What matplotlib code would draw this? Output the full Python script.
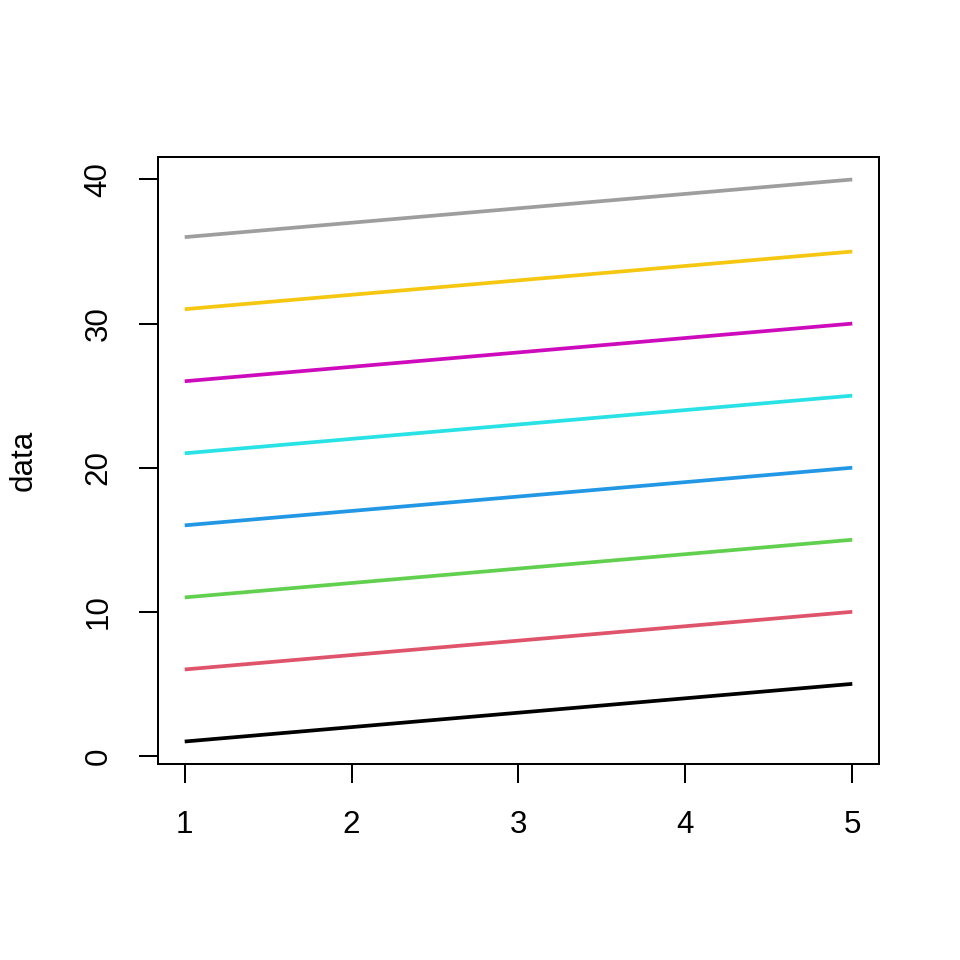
import matplotlib
matplotlib.use("Agg")
import matplotlib.pyplot as plt

plt.rcParams['font.family'] = ['Liberation Sans', 'DejaVu Sans']

# x positions and the 8 series (matplot-style columns)
x = [1, 2, 3, 4, 5]
series = [
    [1, 2, 3, 4, 5],
    [6, 7, 8, 9, 10],
    [11, 12, 13, 14, 15],
    [16, 17, 18, 19, 20],
    [21, 22, 23, 24, 25],
    [26, 27, 28, 29, 30],
    [31, 32, 33, 34, 35],
    [36, 37, 38, 39, 40],
]
colors = ["#000000", "#DF536B", "#61D04F", "#2297E6",
          "#28E2E5", "#CD0BBC", "#F5C710", "#9E9E9E"]
xticks = [1, 2, 3, 4, 5]
yticks = [0, 10, 20, 30, 40]

fig = plt.figure(figsize=(10, 10), dpi=96)
ax = fig.add_axes([158 / 960, 1 - 764 / 960, (879 - 158) / 960, (764 - 157) / 960])

for ys, c in zip(series, colors):
    ax.plot(x, ys, color=c, lw=2.8, solid_capstyle='butt')

# R-style 4% padding
ax.set_xlim(0.84, 5.16)
ax.set_ylim(-0.56, 41.56)
ax.set_xticks(xticks)
ax.set_yticks(yticks)
ax.tick_params(length=14.25, width=1.5, labelsize=23.5, direction='out')
ax.tick_params(axis='x', pad=20)
ax.tick_params(axis='y', pad=19)
for lab in ax.get_yticklabels():
    lab.set_rotation(90)
    lab.set_verticalalignment('center')
for s in ax.spines.values():
    s.set_linewidth(1.5)

ax.set_ylabel("data", fontsize=23.5, labelpad=34)

fig.savefig("out.png", dpi=96)
